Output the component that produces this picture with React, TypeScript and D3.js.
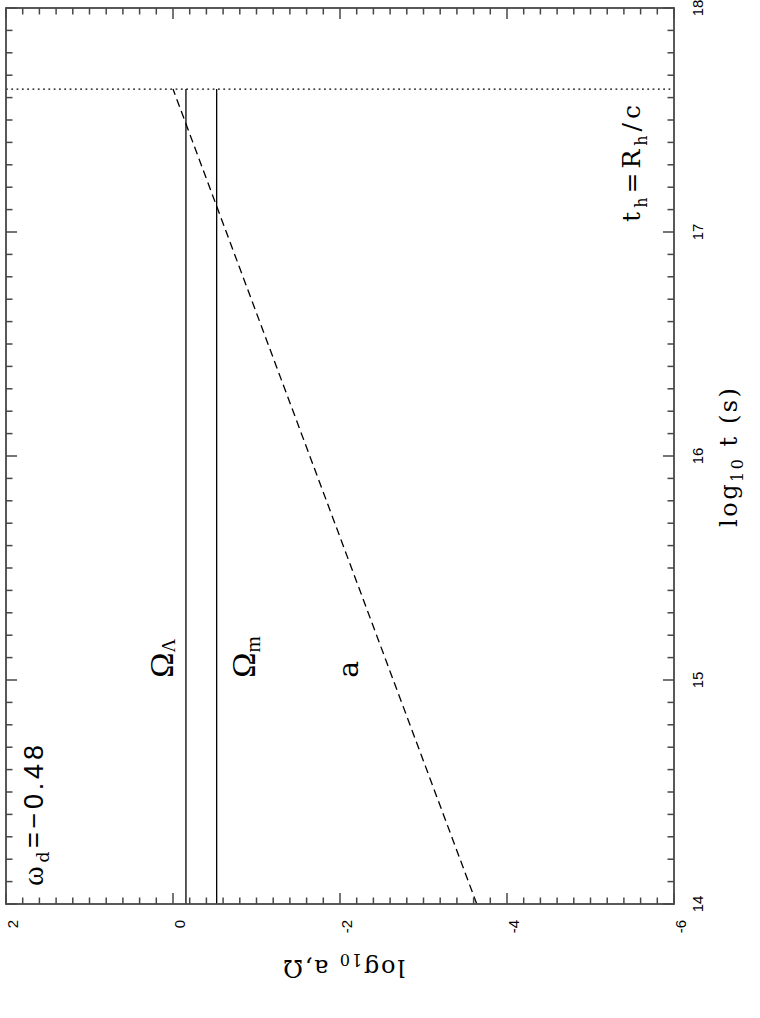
import React from 'react';
import * as d3 from 'd3';

// ---- data ----
const T_DOMAIN: [number, number] = [14, 18];      // log10 t (s)
const Y_DOMAIN: [number, number] = [2, -6];       // log10 a, Omega
const T_MAJOR = [14, 15, 16, 17, 18];
const Y_MAJOR = [2, 0, -2, -4, -6];
const T_LABELS = ['14', '15', '16', '17', '18'];
const Y_LABELS = ['2', '0', '-2', '-4', '-6'];
const LOG_T_H = 17.638;                           // t_h = R_h / c
const OMEGA_LAMBDA = -0.155;
const OMEGA_M = -0.523;
const A_LOG_T = [14, 17.638];
const A_LOG_A = [-3.638, 0];

const W = 760;
const H = 1018;
const LEFT = 6, RIGHT = 674, TOP = 8, BOTTOM = 904;

const SERIF = '"DejaVu Serif", "Liberation Serif", serif';
const SERIF2 = '"Liberation Serif", "Times New Roman", serif';
const SANS = '"Liberation Sans", Arial, sans-serif';

export default function App() {
  const x = d3.scaleLinear().domain(Y_DOMAIN).range([LEFT, RIGHT]);
  const y = d3.scaleLinear().domain(T_DOMAIN).range([BOTTOM, TOP]);

  const isMajor = (arr: number[], v: number) => arr.some(m => Math.abs(m - v) < 1e-6);
  const tMinor = y.ticks(40).filter(v => !isMajor(T_MAJOR, v));
  const yMinor = x.ticks(40).filter(v => !isMajor(Y_MAJOR, v));

  const MAJ = 11, MIN = 6.5;
  const axisColor = '#474747';

  const line = d3.line<[number, number]>().x(d => x(d[1])).y(d => y(d[0]));
  const aPts: [number, number][] = A_LOG_T.map((t, i) => [t, A_LOG_A[i]]);
  const lamPts: [number, number][] = [[T_DOMAIN[0], OMEGA_LAMBDA], [LOG_T_H, OMEGA_LAMBDA]];
  const mPts: [number, number][] = [[T_DOMAIN[0], OMEGA_M], [LOG_T_H, OMEGA_M]];

  const ticks: JSX.Element[] = [];
  Y_MAJOR.forEach((v, i) => {
    ticks.push(<line key={'bM' + i} x1={x(v)} x2={x(v)} y1={BOTTOM} y2={BOTTOM - MAJ} />);
    ticks.push(<line key={'tM' + i} x1={x(v)} x2={x(v)} y1={TOP} y2={TOP + MAJ} />);
  });
  yMinor.forEach((v, i) => {
    ticks.push(<line key={'bm' + i} x1={x(v)} x2={x(v)} y1={BOTTOM} y2={BOTTOM - MIN} />);
    ticks.push(<line key={'tm' + i} x1={x(v)} x2={x(v)} y1={TOP} y2={TOP + MIN} />);
  });
  T_MAJOR.forEach((v, i) => {
    ticks.push(<line key={'lM' + i} x1={LEFT} x2={LEFT + MAJ} y1={y(v)} y2={y(v)} />);
    ticks.push(<line key={'rM' + i} x1={RIGHT} x2={RIGHT - MAJ} y1={y(v)} y2={y(v)} />);
  });
  tMinor.forEach((v, i) => {
    ticks.push(<line key={'lm' + i} x1={LEFT} x2={LEFT + MIN} y1={y(v)} y2={y(v)} />);
    ticks.push(<line key={'rm' + i} x1={RIGHT} x2={RIGHT - MIN} y1={y(v)} y2={y(v)} />);
  });

  return (
    <svg width={W} height={H} style={{ position: 'absolute', left: 0, top: 0, display: 'block' }}>
      <rect x={0} y={0} width={W} height={H} fill="#fff" />

      {/* data lines */}
      <path d={line(lamPts) || ''} stroke="#000" strokeWidth={1.3} fill="none" />
      <path d={line(mPts) || ''} stroke="#000" strokeWidth={1.3} fill="none" />
      <path d={line(aPts) || ''} stroke="#000" strokeWidth={1.3} fill="none" strokeDasharray="8,4.7" />
      <line x1={x(Y_DOMAIN[0])} x2={x(Y_DOMAIN[1])} y1={y(LOG_T_H)} y2={y(LOG_T_H)}
        stroke="#000" strokeWidth={1.4} strokeDasharray="1.8,3.5" />

      {/* frame + ticks */}
      <g stroke={axisColor} strokeWidth={1.5}>{ticks}</g>
      <rect x={LEFT} y={TOP} width={RIGHT - LEFT} height={BOTTOM - TOP} fill="none" stroke={axisColor} strokeWidth={1.8} />

      {/* tick labels: bottom axis (log a, Omega) */}
      {Y_MAJOR.map((v, i) => (
        <text key={'yl' + i} transform={`translate(${x(v) + 11.5},920) rotate(-90)`}
          textAnchor="end" fontFamily={SANS} fontSize={15} fill="#000">{Y_LABELS[i]}</text>
      ))}
      {/* tick labels: right axis (log t) */}
      {T_MAJOR.map((v, i) => (
        <text key={'tl' + i} transform={`translate(703,${y(v)}) rotate(-90)`}
          textAnchor="middle" fontFamily={SANS} fontSize={15} fill="#000">{T_LABELS[i]}</text>
      ))}

      {/* axis titles */}
      <text transform={`translate(737,${(527 + 388) / 2}) rotate(-90)`} textAnchor="middle"
        fontFamily={SERIF} fontSize={24} fill="#000" textLength={139} lengthAdjust="spacing">
        log<tspan fontSize={16} dy={6}>10</tspan><tspan dy={-6}>{'  t  (s)'}</tspan>
      </text>
      <text transform={`translate(344,960) rotate(180)`} textAnchor="middle"
        fontFamily={SERIF} fontSize={24} fill="#000" textLength={122} lengthAdjust="spacing">
        log<tspan fontSize={16} dy={6}>10</tspan><tspan dy={-6}>{'  a,Ω'}</tspan>
      </text>

      {/* curve labels */}
      <text transform={`translate(${x(0.0)},${y(15.01)}) rotate(-90)`} fontFamily={SERIF2} fontSize={34} fill="#000">
        Ω<tspan fontSize={19} dy={2}>Λ</tspan>
      </text>
      <text transform={`translate(${x(-0.98)},${y(15.01)}) rotate(-90)`} fontFamily={SERIF2} fontSize={34} fill="#000">
        Ω<tspan fontSize={21} dy={5}>m</tspan>
      </text>
      <text transform={`translate(${x(-2.22)},${y(15.01)}) rotate(-90)`} fontFamily={SERIF} fontSize={28} fill="#000">a</text>

      <text transform={`translate(${x(1.56)},${y(14.08)}) rotate(-90)`} fontSize={27} fill="#000"
        textLength={141} lengthAdjust="spacing">
        <tspan fontFamily={SERIF2} fontSize={30}>ω</tspan>
        <tspan fontFamily={SERIF} fontSize={17} dy={6}>d</tspan>
        <tspan fontFamily={SANS} dy={-6}>=−0.48</tspan>
      </text>

      <text transform={`translate(${x(-5.59)},${y(17.045)}) rotate(-90)`} fontFamily={SERIF} fontSize={25} fill="#000"
        textLength={117} lengthAdjust="spacing">
        t<tspan fontSize={16} dy={7}>h</tspan><tspan dy={-7}>=R</tspan><tspan fontSize={16} dy={7}>h</tspan><tspan dy={-7}>/c</tspan>
      </text>
    </svg>
  );
}
